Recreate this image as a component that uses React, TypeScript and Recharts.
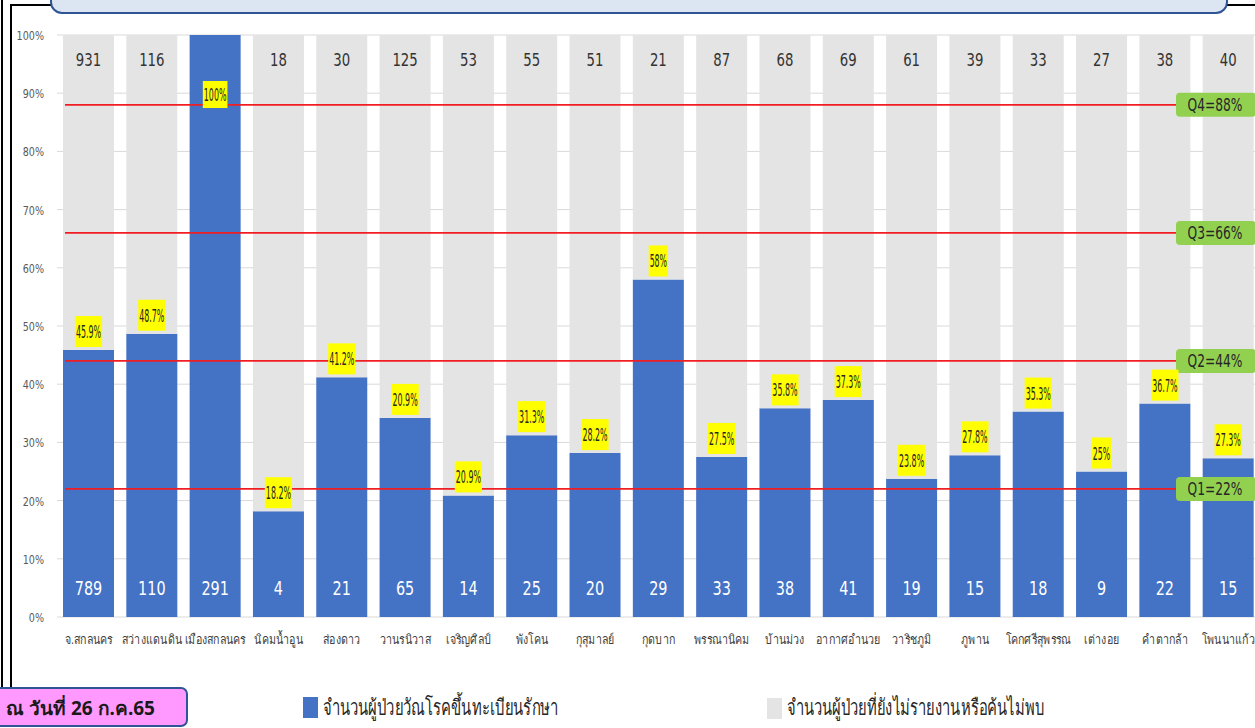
import { BarChart, Bar, XAxis, YAxis, CartesianGrid, ReferenceLine, LabelList } from 'recharts';

const districts = [
  'จ.สกลนคร', 'สว่างแดนดิน', 'เมืองสกลนคร', 'นิคมน้ำอูน', 'ส่องดาว', 'วานรนิวาส',
  'เจริญศิลป์', 'พังโคน', 'กุสุมาลย์', 'กุดบาก', 'พรรณานิคม', 'บ้านม่วง',
  'อากาศอำนวย', 'วาริชภูมิ', 'ภูพาน', 'โคกศรีสุพรรณ', 'เต่างอย', 'คำตากล้า', 'โพนนาแก้ว',
];

// registered for treatment
const registered = [789, 110, 291, 4, 21, 65, 14, 25, 20, 29, 33, 38, 41, 19, 15, 18, 9, 22, 15];
// not yet reported / not found
const missing = [931, 116, 0, 18, 30, 125, 53, 55, 51, 21, 87, 68, 69, 61, 39, 33, 27, 38, 40];
const pctLabels = [
  '45.9%', '48.7%', '100%', '18.2%', '41.2%', '20.9%', '20.9%', '31.3%', '28.2%', '58%',
  '27.5%', '35.8%', '37.3%', '23.8%', '27.8%', '35.3%', '25%', '36.7%', '27.3%',
];

const quartileNames = ['Q1', 'Q2', 'Q3', 'Q4'];
const quartileValues = [22, 44, 66, 88];
const yTicks = [0, 0.1, 0.2, 0.3, 0.4, 0.5, 0.6, 0.7, 0.8, 0.9, 1];

const FONT = "'DejaVu Sans Condensed', 'Noto Sans', sans-serif";

const data = districts.map((name, i) => ({
  name,
  registered: registered[i],
  missing: missing[i],
  pct: pctLabels[i],
}));

// squeezed text, the slide fonts are narrow
const NarrowText = ({ x, y, sx, size, fill, anchor = 'middle', weight, children }: any) => (
  <text transform={`translate(${x},${y}) scale(${sx},1)`} textAnchor={anchor} fontSize={size}
    fill={fill} fontFamily={FONT} fontWeight={weight}>
    {children}
  </text>
);

const tagWidth = (t: string) => {
  let w = 9;
  for (const c of t) w += c === '.' ? 2.6 : c === '%' ? 0 : 5.2;
  return w;
};

const PctLabel = (props: any) => {
  const { x, y, width, index } = props;
  const text = pctLabels[index];
  const w = tagWidth(text);
  const cx = x + width / 2;
  // a full bar has no room above it, so its tag sits inside
  const inside = y < 60;
  const hh = inside ? 27 : 31;
  const top = inside ? y + 46 : y - 3 - hh;
  return (
    <g>
      <rect x={cx - w / 2} y={top} width={w} height={hh} fill="#ffff00" />
      <text x={cx} y={top + hh / 2 + 6.5} textAnchor="middle" fontSize={17} fill="#262626"
        fontFamily={FONT} textLength={w - 2} lengthAdjust="spacingAndGlyphs">
        {text}
      </text>
    </g>
  );
};

const BottomCount = (props: any) => {
  const { x, y, width, height, value } = props;
  return (
    <NarrowText x={x + width / 2} y={y + height - 22} sx={0.8} size={20} fill="#ffffff">
      {value}
    </NarrowText>
  );
};

const TopCount = (props: any) => {
  const { x, y, width, value } = props;
  return (
    <NarrowText x={x + width / 2} y={y + 31} sx={0.82} size={18} fill="#333333">
      {value}
    </NarrowText>
  );
};

const quartileShape = (label: string) => (props: any) => {
  const { x1, y1 } = props;
  return (
    <g>
      <line x1={x1 + 8} y1={y1} x2={1180} y2={y1} stroke="#f01e23" strokeWidth={1.8} />
      <rect x={1176} y={y1 - 12} width={80} height={24} rx={4} fill="#92d050" />
      <NarrowText x={1215} y={y1 + 6} sx={0.8} size={17} fill="#262626">
        {label}
      </NarrowText>
    </g>
  );
};

const XTick = (props: any) => {
  const { x, y, payload } = props;
  return (
    <NarrowText x={x} y={y + 25} sx={0.82} size={13} fill="#404040">
      {payload.value}
    </NarrowText>
  );
};

const YTick = (props: any) => {
  const { x, y, payload } = props;
  return (
    <NarrowText x={x} y={y + 5} sx={0.82} size={13} fill="#595959" anchor="end">
      {`${Math.round(payload.value * 100)}%`}
    </NarrowText>
  );
};

export default function App() {
  return (
    <div style={{ position: 'fixed', left: 0, top: 0, width: 1255, height: 728, overflow: 'hidden', background: '#fff' }}>
      {/* frame lines on the left and top */}
      <div style={{ position: 'absolute', left: 1, top: 0, width: 2, height: 688, background: '#000' }} />
      <div style={{ position: 'absolute', left: 10, top: 4, width: 2, height: 684, background: '#000' }} />
      <div style={{ position: 'absolute', left: 10, top: 4, width: 1245, height: 2, background: '#000' }} />

      <div style={{ position: 'absolute', left: 0, top: 0 }}>
        <BarChart
          width={1260}
          height={728}
          data={data}
          stackOffset="expand"
          margin={{ top: 35, right: 0, bottom: 81, left: 1 }}
          barSize={51}
        >
          <CartesianGrid vertical={false} stroke="#d9d9d9" strokeWidth={1} />
          <XAxis dataKey="name" axisLine={false} tickLine={false} tickSize={0} height={30}
            interval={0} tick={<XTick />} />
          <YAxis width={56} domain={[0, 1]} ticks={yTicks} axisLine={false} tickLine={false}
            tickSize={0} tickMargin={13} tick={<YTick />} />
          <Bar dataKey="registered" stackId="a" fill="#4472c4" isAnimationActive={false}>
            <LabelList dataKey="registered" content={<BottomCount />} />
            <LabelList dataKey="pct" content={<PctLabel />} />
          </Bar>
          <Bar dataKey="missing" stackId="a" fill="#e4e4e4" isAnimationActive={false}>
            <LabelList dataKey="missing" content={<TopCount />} />
          </Bar>
          {quartileValues.map((q, i) => (
            <ReferenceLine key={q} y={q / 100} ifOverflow="visible"
              shape={quartileShape(`${quartileNames[i]}=${q}%`)} />
          ))}
        </BarChart>
      </div>

      {/* heading box, cut off by the top edge */}
      <div style={{ position: 'absolute', left: 50, top: -30, width: 1174, height: 40, background: '#dce6f2',
        border: '2.5px solid #2f5597', borderRadius: 12 }} />

      {/* legend */}
      <div style={{ position: 'absolute', left: 303, top: 697, width: 15, height: 21, background: '#4472c4' }} />
      <div style={{ position: 'absolute', left: 323, top: 690, fontSize: 22, color: '#262626', fontFamily: FONT,
        whiteSpace: 'nowrap', transform: 'scaleX(0.675)', transformOrigin: 'left' }}>จำนวนผู้ป่วยวัณโรคขึ้นทะเบียนรักษา</div>
      <div style={{ position: 'absolute', left: 767, top: 698, width: 15, height: 21, background: '#e4e4e4' }} />
      <div style={{ position: 'absolute', left: 787, top: 690, fontSize: 22, color: '#262626', fontFamily: FONT,
        whiteSpace: 'nowrap', transform: 'scaleX(0.67)', transformOrigin: 'left' }}>จำนวนผู้ป่วยที่ยังไม่รายงานหรือค้นไม่พบ</div>

      {/* date tag */}
      <div style={{ position: 'absolute', left: -12, top: 687, width: 196, height: 36, background: '#ff99ff',
        border: '2px solid #2f5597', borderRadius: 7 }} />
      <div style={{ position: 'absolute', left: 6, top: 693, fontSize: 19, fontWeight: 'bold', color: '#1a1a1a',
        fontFamily: "'Noto Sans', sans-serif", whiteSpace: 'nowrap' }}>ณ วันที่ 26 ก.ค.65</div>
    </div>
  );
}
